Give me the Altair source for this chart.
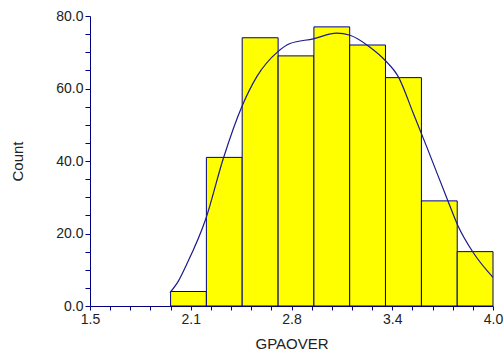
import altair as alt
import pandas as pd

# Histogram bins (GPAOVER) and counts
bin_left = [2.0, 2.222, 2.444, 2.667, 2.889, 3.111, 3.333, 3.556, 3.778]
bin_right = [2.222, 2.444, 2.667, 2.889, 3.111, 3.333, 3.556, 3.778, 4.0]
counts = [4, 41, 74, 69, 77, 72, 63, 29, 15]

# Density curve (scaled to counts)
curve_x = [1.996, 2.05, 2.10, 2.218, 2.327, 2.441, 2.534, 2.664, 2.741, 2.885,
           3.030, 3.113, 3.237, 3.330, 3.413, 3.506, 3.589, 3.723, 3.781, 3.878, 4.0]
curve_y = [3.7, 7.0, 11.5, 24.0, 40.7, 54.9, 63.2, 70.1, 72.4, 73.7,
           75.3, 74.7, 71.4, 67.8, 63.2, 53.1, 43.9, 28.7, 22.3, 14.7, 7.9]

# Axis tick values and labels
x_ticks = [1.5, 1.625, 1.75, 1.875, 2.0, 2.125, 2.25, 2.375, 2.5, 2.625, 2.75,
           2.875, 3.0, 3.125, 3.25, 3.375, 3.5, 3.625, 3.75, 3.875, 4.0]
x_labeled = [1.5, 2.125, 2.75, 3.375, 4.0]
y_ticks = [0, 5, 10, 15, 20, 25, 30, 35, 40, 45, 50, 55, 60, 65, 70, 75, 80]
y_labeled = [0, 20, 40, 60, 80]

bars_df = pd.DataFrame({"x0": bin_left, "x1": bin_right, "count": counts})
curve_df = pd.DataFrame({"x": curve_x, "y": curve_y})

NAVY = "#000080"
FONT = "Liberation Sans"

x_scale = alt.Scale(domain=[1.5, 4.0], nice=False, zero=False)
y_scale = alt.Scale(domain=[0, 80], nice=False)

x_label_expr = "indexof([" + ",".join(str(v) for v in x_labeled) + "], datum.value) >= 0 ? format(datum.value, '.1f') : ''"
y_label_expr = "indexof([" + ",".join(str(v) for v in y_labeled) + "], datum.value) >= 0 ? format(datum.value, '.1f') : ''"

x_axis = alt.Axis(
    values=x_ticks, labelExpr=x_label_expr, labelOverlap=False, labelFlush=False,
    tickSize=4, tickColor=NAVY, domainColor=NAVY, grid=False,
    labelFont=FONT, labelFontSize=14, labelColor="#222222", labelPadding=2,
    title="GPAOVER", titleFont=FONT, titleFontSize=15, titleFontWeight="normal",
    titleColor="#222222", titleY=37.5, titleBaseline="middle",
)
y_axis = alt.Axis(
    values=y_ticks, labelExpr=y_label_expr, labelOverlap=False, labelFlush=False,
    tickSize=5, tickColor=NAVY, domainColor=NAVY, grid=False,
    labelFont=FONT, labelFontSize=14, labelColor="#222222", labelPadding=2,
    title="Count", titleFont=FONT, titleFontSize=15, titleFontWeight="normal",
    titleColor="#222222", titleX=-73, titleBaseline="middle",
)

bars = alt.Chart(bars_df).mark_rect(
    color="#FFFF00", stroke=NAVY, strokeWidth=1
).encode(
    x=alt.X("x0:Q", scale=x_scale, axis=x_axis),
    x2="x1:Q",
    y=alt.Y("count:Q", scale=y_scale, axis=y_axis),
    y2=alt.datum(0),
)

curve = alt.Chart(curve_df).mark_line(
    color="#1a1a8c", strokeWidth=1.2, interpolate="monotone"
).encode(
    x=alt.X("x:Q", scale=x_scale, axis=x_axis),
    y=alt.Y("y:Q", scale=y_scale, axis=y_axis),
)

chart = alt.layer(bars, curve).properties(
    width=403, height=290,
    autosize=alt.AutoSizeParams(type="none"),
    padding={"left": 90, "top": 16, "right": 11, "bottom": 50},
    background="white",
).configure_view(stroke=None)

chart.save("out.html", embed_options={"renderer": "svg", "actions": False})
